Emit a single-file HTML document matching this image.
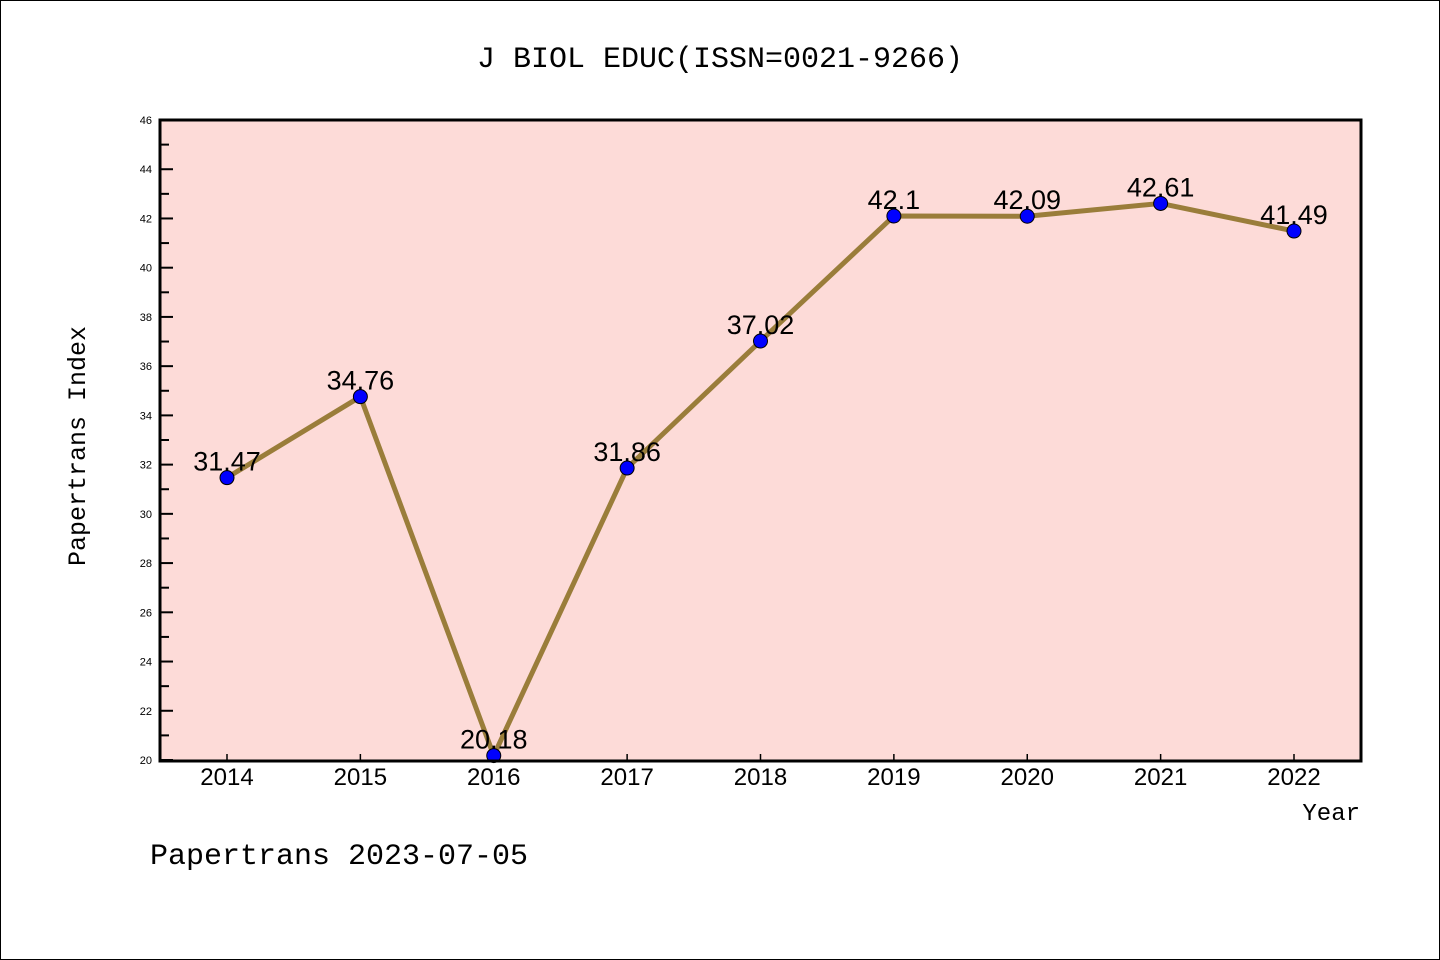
<!DOCTYPE html>
<html><head><meta charset="utf-8"><style>
html,body{margin:0;padding:0;background:#fff}
svg{display:block}
.mono{font-family:"Liberation Mono","WenQuanYi Zen Hei",monospace}
.sans{font-family:"Liberation Sans","WenQuanYi Zen Hei",sans-serif}
</style></head><body>
<svg id="chart" width="1440" height="960" viewBox="0 0 1440 960" xmlns="http://www.w3.org/2000/svg">
<rect x="0.5" y="0.5" width="1439" height="959" fill="#fff" stroke="#000"/>
<text x="720" y="67" text-anchor="middle" font-size="30" class="mono">J BIOL EDUC(ISSN=0021-9266)</text>
<rect x="160" y="120" width="1201" height="641" fill="#fddbd8"/>
<g id="axes"></g>
<g id="series"></g>
<rect x="160" y="120" width="1201" height="641" fill="none" stroke="#000" stroke-width="3"/>
<text x="85" y="446" transform="rotate(-90 85 446)" text-anchor="middle" font-size="25" class="mono">Papertrans Index</text>
<text x="1360" y="820" text-anchor="end" font-size="24" class="mono">Year</text>
<text x="150" y="864" font-size="30" class="mono">Papertrans 2023-07-05</text>
</svg>
<script>
const years = ["2014","2015","2016","2017","2018","2019","2020","2021","2022"];
const values = [31.47,34.76,20.18,31.86,37.02,42.1,42.09,42.61,41.49];
const labels = ["31.47","34.76","20.18","31.86","37.02","42.1","42.09","42.61","41.49"];
const yTicks = [20,22,24,26,28,30,32,34,36,38,40,42,44,46];
const NS="http://www.w3.org/2000/svg";
const yMin=20,yMax=46,plotTop=120,plotBot=760,x0=227,x1=1294;
const yS=v=>plotBot-(v-yMin)/(yMax-yMin)*(plotBot-plotTop);
const xS=i=>x0+i*(x1-x0)/(years.length-1);
function mk(tag,attrs,parent){const e=document.createElementNS(NS,tag);for(const k in attrs)e.setAttribute(k,attrs[k]);parent.appendChild(e);return e;}
const ax=document.getElementById('axes'), se=document.getElementById('series');
yTicks.forEach((t,i)=>{
  const y=yS(t);
  const l=mk('line',{x1:160,x2:173,y1:y,y2:y,stroke:'#000','stroke-width':2},ax);
  
  
  const tx=mk('text',{x:152,y:y+4,'text-anchor':'end','font-size':11,class:'sans'},ax);
  tx.textContent=t;
  
  
  if(i<yTicks.length-1){
    const ym=yS(t+1);
    const m=mk('line',{x1:160,x2:169,y1:ym,y2:ym,stroke:'#000','stroke-width':2},ax);
    
    
  }
});
years.forEach((yr,i)=>{
  const x=xS(i);
  const l=mk('line',{x1:x,x2:x,y1:761,y2:754,stroke:'#000','stroke-width':1.5},ax);
  
  
  const tx=mk('text',{x:x,y:785,'text-anchor':'middle','font-size':24,class:'sans'},ax);
  tx.textContent=yr;
  
  
});
const pts=values.map((v,i)=>xS(i)+','+yS(v)).join(' ');
const pl=mk('polyline',{points:pts,fill:'none',stroke:'#9a7d3a','stroke-width':5,'stroke-linejoin':'round'},se);


values.forEach((v,i)=>{
  const c=mk('circle',{cx:xS(i),cy:yS(v),r:7,fill:'#0000ff',stroke:'#000','stroke-width':1},se);
  
  
  const t=mk('text',{x:xS(i),y:yS(v)-7,'text-anchor':'middle','font-size':27,class:'sans'},se);
  t.textContent=labels[i];
  
  
});
</script>
</body></html>
